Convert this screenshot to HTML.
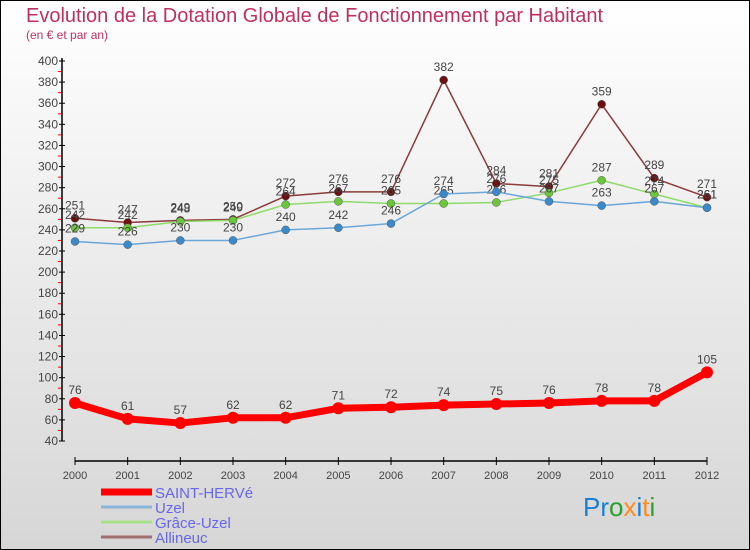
<!DOCTYPE html>
<html><head><meta charset="utf-8"><style>
body{margin:0}
#c{width:750px;height:550px;position:relative;overflow:hidden;font-family:"Liberation Sans",sans-serif}
</style></head><body>
<div id="c">
<svg id="s" width="750" height="550" xmlns="http://www.w3.org/2000/svg" font-family="Liberation Sans, sans-serif">
<defs><linearGradient id="bg" x1="0" y1="0" x2="0" y2="1"><stop offset="0" stop-color="#ffffff"/><stop offset="1" stop-color="#d6d6d6"/></linearGradient></defs>
<rect x="0.5" y="0.5" width="749" height="549" fill="url(#bg)" stroke="#000"/>
<text x="26" y="22" font-size="20" fill="#c0305a">Evolution de la Dotation Globale de Fonctionnement par Habitant</text>
<text x="26" y="39" font-size="12" fill="#c0305a">(en € et par an)</text>
<g id="axes"></g><g id="series"></g><g id="legend"></g>
<text x="583" y="516" font-size="26"><tspan fill="#1a7fd4">Pr</tspan><tspan fill="#2ca02c">o</tspan><tspan fill="#ff8c1a">x</tspan><tspan fill="#1a7fd4">i</tspan><tspan fill="#ff8c1a">t</tspan><tspan fill="#2ca02c">i</tspan></text>
</svg></div>
<script>
const years=[2000,2001,2002,2003,2004,2005,2006,2007,2008,2009,2010,2011,2012];
const saint=[76,61,57,62,62,71,72,74,75,76,78,78,105];
const uzel=[229,226,230,230,240,242,246,274,276,267,263,267,261];
const grace=[242,242,248,249,264,267,265,265,266,275,287,274,261];
const allineuc=[251,247,249,250,272,276,276,382,284,281,359,289,271];
const yTicks=[40,60,80,100,120,140,160,180,200,220,240,260,280,300,320,340,360,380,400];
const NS="http://www.w3.org/2000/svg";
const X=i=>75+i*(707-75)/(years.length-1);
const Y=v=>441-(v-40)*(380/360);
function mk(t,a,p){const e=document.createElementNS(NS,t);for(const k in a)e.setAttribute(k,a[k]);p.appendChild(e);return e;}
const ax=document.getElementById('axes');
let l=mk('line',{x1:62,y1:58,x2:62,y2:441,stroke:'#000','stroke-width':1.5},ax);


l=mk('line',{x1:75,y1:461,x2:707,y2:461,stroke:'#000','stroke-width':1.5},ax);


yTicks.forEach(v=>{
 mk('line',{x1:59,y1:Y(v),x2:65,y2:Y(v),stroke:'#000'},ax);
 if(v<400)mk('line',{x1:58,y1:Y(v+10),x2:61,y2:Y(v+10),stroke:'#f00'},ax);
 const t=mk('text',{x:58,y:Y(v)+4,'font-size':12,fill:'#444','text-anchor':'end'},ax);
 t.textContent=v;
 
 
});
years.forEach((y,i)=>{
 mk('line',{x1:X(i),y1:457,x2:X(i),y2:465,stroke:'#000'},ax);
 const t=mk('text',{x:X(i),y:479,'font-size':11,fill:'#444','text-anchor':'middle'},ax);
 t.textContent=y;
 
 
});
const sg=document.getElementById('series');
const defs=[
 {n:'allineuc',d:allineuc,c:'#8b3a3a',m:'#6b1010',w:1.5,r:4},
 {n:'grace-uzel',d:grace,c:'#8edb6a',m:'#6cc63c',w:1.5,r:4},
 {n:'uzel',d:uzel,c:'#6aa6d8',m:'#3a8acb',w:1.5,r:4},
 {n:'saint-herve',d:saint,c:'#ff0000',m:'#ff0000',w:7,r:6}];
defs.forEach(s=>{
 const g=mk('g',{},sg);
 
 
 const p=mk('polyline',{points:s.d.map((v,i)=>X(i)+','+Y(v)).join(' '),fill:'none',stroke:s.c,'stroke-width':s.w,'stroke-linejoin':'round'},g);
 
 
 s.d.forEach((v,i)=>{
  const c=mk('circle',{cx:X(i),cy:Y(v),r:s.r,fill:s.m,stroke:'#555','stroke-width':s.n=='saint-herve'?0:0.5},g);
  
  
  const t=mk('text',{x:X(i),y:Y(v)-9,'font-size':12,fill:'#444','text-anchor':'middle'},g);
  t.textContent=v;
  
  
 });
});
const lg=document.getElementById('legend');
[['SAINT-HERVé','#ff0000',7],['Uzel','#8ab4d8',3],['Grâce-Uzel','#a8e08a',3],['Allineuc','#a07070',3]].forEach((e,i)=>{
 const y=492+i*15;
 const g=mk('g',{},lg);
 
 
 mk('line',{x1:101,y1:y,x2:152,y2:y,stroke:e[1],'stroke-width':e[2]},g);
 const t=mk('text',{x:155,y:y+6,'font-size':15,fill:'#6666ee'},g);
 t.textContent=e[0];
});
</script>
</body></html>
